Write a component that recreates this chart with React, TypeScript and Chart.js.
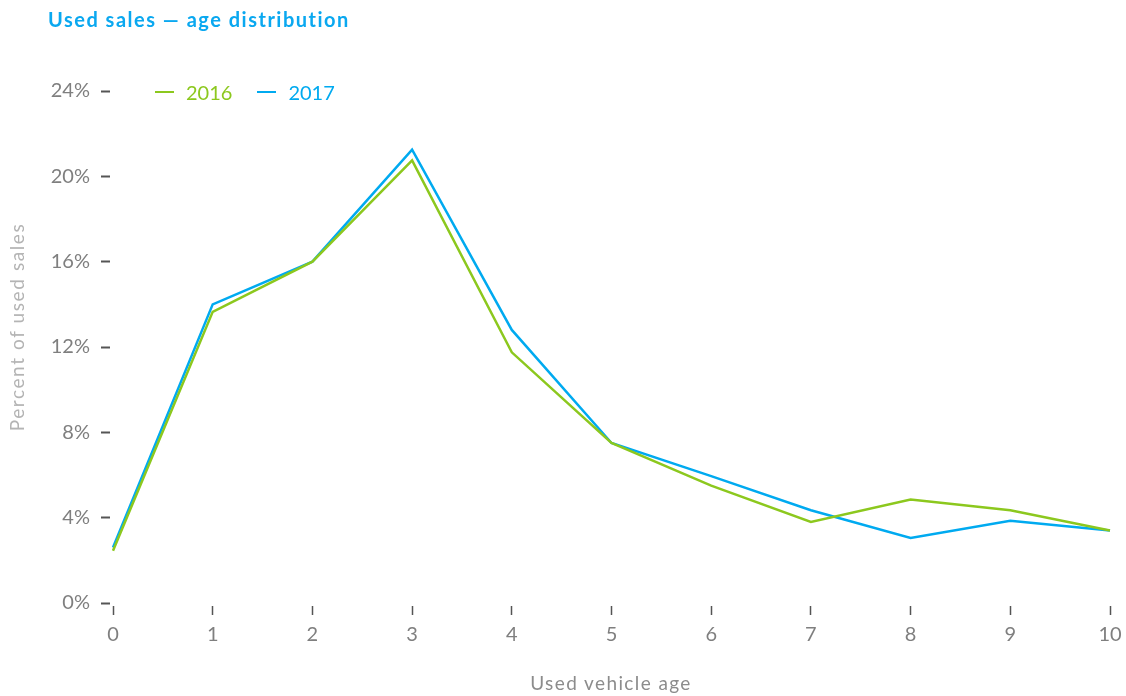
import React, { useEffect, useRef } from "react";
import { Chart, registerables } from "chart.js";

Chart.register(...registerables);

const ages: string[] = ["0", "1", "2", "3", "4", "5", "6", "7", "8", "9", "10"];
const sales2016: number[] = [2.45, 13.65, 16.0, 20.75, 11.75, 7.5, 5.5, 3.8, 4.85, 4.35, 3.4];
const sales2017: number[] = [2.6, 14.0, 16.0, 21.25, 12.8, 7.5, 5.95, 4.35, 3.05, 3.85, 3.4];
const yTickValues: number[] = [0, 4, 8, 12, 16, 20, 24];
const seriesNames: string[] = ["2016", "2017"];
const seriesColors: string[] = ["#8cc81e", "#00aaf0"];

const FONT = "Lato, 'Open Sans', sans-serif";

export default function App() {
  const canvasRef = useRef<HTMLCanvasElement | null>(null);

  useEffect(() => {
    if (!canvasRef.current) return;
    const chart = new Chart(canvasRef.current, {
      type: "line",
      data: {
        labels: ages,
        datasets: [
          {
            label: seriesNames[0],
            data: sales2016,
            borderColor: seriesColors[0],
            backgroundColor: seriesColors[0],
            borderWidth: 2.5,
            pointRadius: 0,
            tension: 0,
          },
          {
            label: seriesNames[1],
            data: sales2017,
            borderColor: seriesColors[1],
            backgroundColor: seriesColors[1],
            borderWidth: 2.5,
            pointRadius: 0,
            tension: 0,
          },
        ],
      },
      options: {
        responsive: false,
        animation: false,
        layout: { padding: { left: 0, right: 16, top: 91, bottom: 0 } },
        plugins: {
          legend: { display: false },
          title: { display: false },
          tooltip: { enabled: false },
        },
        scales: {
          x: {
            type: "category",
            offset: false,
            border: { display: false },
            grid: {
              drawOnChartArea: false,
              drawTicks: true,
              tickLength: 12,
              tickBorderDash: [0, 3, 9, 100],
              tickColor: "#555555",
              tickWidth: 1.5,
            },
            ticks: {
              color: "#7f7f7f",
              font: { family: FONT, size: 20 },
              padding: 8,
              maxRotation: 0,
            },
            title: { display: false },
            afterFit: (scale: any) => {
              scale.height = 93;
              scale.paddingRight = 0;
              scale.paddingLeft = 0;
            },
          },
          y: {
            type: "linear",
            min: 0,
            max: 24,
            border: { display: false },
            grid: {
              drawOnChartArea: false,
              drawTicks: true,
              tickLength: 12,
              tickBorderDash: [9, 100],
              tickColor: "#555555",
              tickWidth: 2,
            },
            ticks: {
              color: "#7f7f7f",
              font: { family: FONT, size: 20 },
              padding: 11,
              callback: (v: any) => v + "%",
            },
            afterBuildTicks: (scale: any) => {
              scale.ticks = yTickValues.map((v) => ({ value: v }));
            },
            afterFit: (scale: any) => {
              scale.width = 113;
            },
          },
        },
      },
    });
    return () => chart.destroy();
  }, []);

  return (
    <div
      style={{
        position: "fixed",
        left: 0,
        top: 0,
        width: 1126,
        height: 696,
        background: "#ffffff",
        fontFamily: FONT,
        overflow: "hidden",
      }}
    >
      <canvas ref={canvasRef} width={1126} height={696} style={{ position: "absolute", left: 0, top: 0 }} />
      <div
        style={{
          position: "absolute",
          left: 48,
          top: 7,
          fontSize: 20,
          lineHeight: "24px",
          fontWeight: 700,
          letterSpacing: "1.5px",
          color: "#0aa8f0",
          whiteSpace: "nowrap",
        }}
      >
        Used sales — age distribution
      </div>
      <div
        style={{
          position: "absolute",
          left: 155,
          top: 80,
          display: "flex",
          alignItems: "center",
          fontSize: 20,
          lineHeight: "24px",
        }}
      >
        {seriesNames.map((name, i) => (
          <div key={name} style={{ display: "flex", alignItems: "center", marginRight: 25 }}>
            <div style={{ width: 19, height: 2.5, background: seriesColors[i], marginRight: 12 }} />
            <span style={{ color: seriesColors[i] }}>{name}</span>
          </div>
        ))}
      </div>
      <div
        style={{
          position: "absolute",
          left: 17 - 150,
          top: 327 - 12,
          width: 300,
          height: 24,
          lineHeight: "24px",
          fontSize: 19,
          letterSpacing: "1.6px",
          color: "#b4b4b4",
          textAlign: "center",
          transform: "rotate(-90deg)",
          transformOrigin: "center center",
          whiteSpace: "nowrap",
        }}
      >
        Percent of used sales
      </div>
      <div
        style={{
          position: "absolute",
          left: 611 - 150,
          top: 671,
          width: 300,
          height: 24,
          lineHeight: "24px",
          fontSize: 19,
          letterSpacing: "1.4px",
          color: "#8c8c8c",
          textAlign: "center",
          whiteSpace: "nowrap",
        }}
      >
        Used vehicle age
      </div>
    </div>
  );
}
